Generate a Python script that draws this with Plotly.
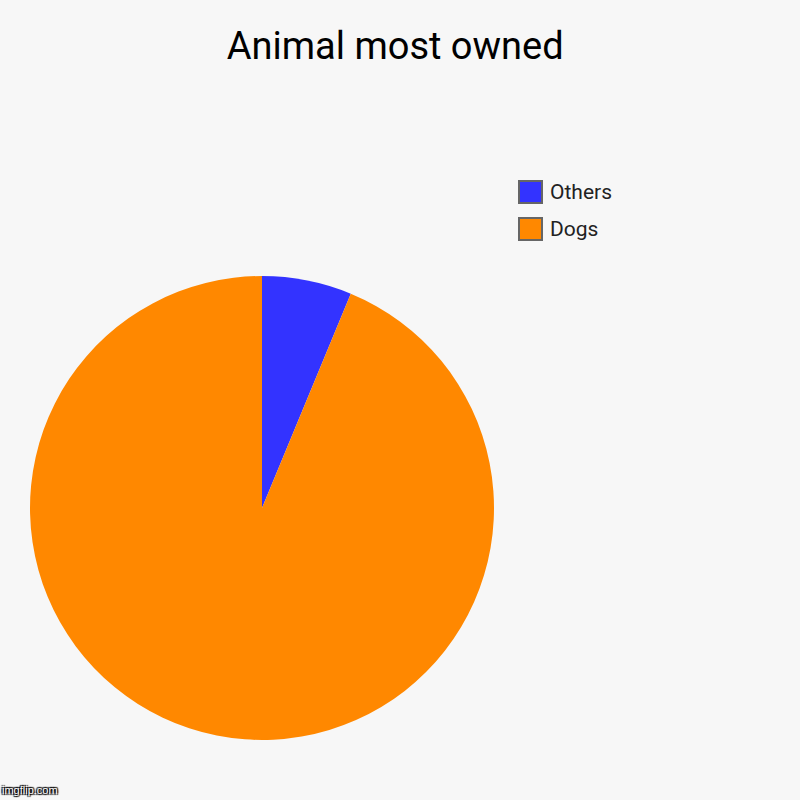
import plotly.graph_objects as go

animals = ["Others", "Dogs"]
owned = [6.25, 93.75]
colors = ["#3333ff", "#ff8800"]

fig = go.Figure(go.Pie(
    labels=animals,
    values=owned,
    sort=False,
    direction="clockwise",
    rotation=0,
    textinfo="none",
    hoverinfo="label+percent",
    showlegend=False,
    marker=dict(colors=colors, line=dict(width=0)),
    domain=dict(x=[0.0375, 0.6175], y=[0.075, 0.655]),
))

# legend drawn by hand: big squares with grey border like the original
shapes = []
annotations = []
for i, (name, col) in enumerate(zip(animals, colors)):
    top = 181 + i * 37
    shapes.append(dict(type="rect", xref="paper", yref="paper",
                       x0=519 / 800, x1=542 / 800,
                       y0=1 - (top + 22) / 800, y1=1 - top / 800,
                       fillcolor=col, line=dict(color="#666666", width=2)))
    annotations.append(dict(text=name, xref="paper", yref="paper",
                            x=548 / 800, y=1 - (top + 11) / 800,
                            xanchor="left", yanchor="middle", showarrow=False,
                            font=dict(family="Roboto", size=21, color="#222222")))

annotations.append(dict(text="imgflip.com", x=0.0, y=0.002, xref="paper", yref="paper",
                        xanchor="left", yanchor="bottom", showarrow=False,
                        font=dict(family="Arial", size=11, color="#ffffff",
                                  shadow="1px 1px 1px #000, -1px -1px 1px #000, 1px -1px 1px #000, -1px 1px 1px #000")))

fig.update_layout(
    title=dict(text="Animal most owned", x=0.494, xanchor="center", y=0.926, yanchor="bottom",
               font=dict(family="Roboto", size=38, color="#000000")),
    font=dict(family="Roboto", color="#222222"),
    paper_bgcolor="#f7f7f7",
    plot_bgcolor="#f7f7f7",
    width=800, height=800,
    margin=dict(l=0, r=0, t=0, b=0),
    shapes=shapes,
    annotations=annotations,
)

fig.write_html("out.html", config={"displayModeBar": False},
               post_script="document.body.style.margin='0';")
